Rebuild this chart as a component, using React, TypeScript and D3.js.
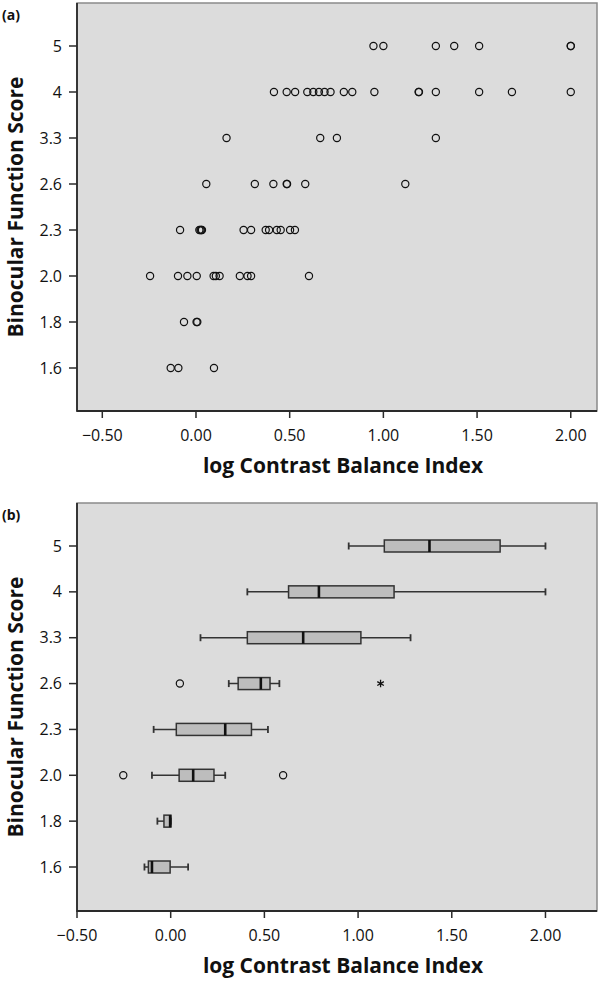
import React from 'react';
import * as d3 from 'd3';

const categories = ['5', '4', '3.3', '2.6', '2.3', '2.0', '1.8', '1.6'];
const xTicks = [-0.5, 0, 0.5, 1, 1.5, 2];

// Panel (a) scatter values, one array per score
const score5 = [0.947, 1.0, 1.28, 1.378, 1.511, 2.0, 2.0];
const score4 = [0.416, 0.484, 0.529, 0.594, 0.626, 0.656, 0.686, 0.718, 0.789, 0.834, 0.952, 1.188, 1.19, 1.28, 1.511, 1.686, 2.0];
const score33 = [0.163, 0.663, 0.752, 1.28];
const score26 = [0.055, 0.314, 0.413, 0.484, 0.486, 0.583, 1.117];
const score23 = [-0.085, 0.018, 0.024, 0.028, 0.032, 0.254, 0.294, 0.372, 0.39, 0.431, 0.452, 0.502, 0.528];
const score20 = [-0.245, -0.096, -0.046, 0.004, 0.094, 0.106, 0.126, 0.234, 0.275, 0.294, 0.603];
const score18 = [-0.064, 0.003, 0.007];
const score16 = [-0.135, -0.094, 0.096];
const scatterSeries = [score5, score4, score33, score26, score23, score20, score18, score16];

// Panel (b) box statistics, in category order
const whiskerLow = [0.95, 0.409, 0.159, 0.31, -0.091, -0.1, -0.071, -0.14];
const q1 = [1.14, 0.629, 0.409, 0.36, 0.03, 0.045, -0.036, -0.119];
const median = [1.381, 0.791, 0.707, 0.481, 0.291, 0.12, -0.003, -0.1];
const q3 = [1.758, 1.192, 1.015, 0.53, 0.431, 0.231, 0.001, -0.003];
const whiskerHigh = [2.0, 2.0, 1.28, 0.58, 0.519, 0.291, 0.001, 0.093];
const outlierCats = ['2.6', '2.0', '2.0'];
const outlierVals = [0.049, -0.253, 0.6];
const extremeCats = ['2.6'];
const extremeVals = [1.12];

const W = 600;
const H = 982;
const LEFT = 77;
const RIGHT = 597;
const BG = '#dcdcdc';
const AXIS = '#2a2a2a';
const FONT = '"Open Sans", "DejaVu Sans", sans-serif';

function Frame({ top, bottom, x, y, label }: any) {
  return (
    <g>
      <rect x={LEFT} y={top} width={RIGHT - LEFT} height={bottom - top} fill={BG} stroke="#8a8a8a" strokeWidth={1.5} />
      <line x1={LEFT} x2={LEFT} y1={top} y2={bottom + 0.75} stroke={AXIS} strokeWidth={1.8} />
      <line x1={LEFT} x2={RIGHT} y1={bottom} y2={bottom} stroke={AXIS} strokeWidth={1.8} />
      {xTicks.map((t) => (
        <g key={t}>
          <line x1={x(t)} x2={x(t)} y1={bottom} y2={bottom + 7} stroke={AXIS} strokeWidth={1.5} />
          <text x={x(t)} y={bottom + 30} textAnchor="middle" fontFamily={FONT} fontSize={16} fill="#111">
            {d3.format('.2f')(t).replace('-', '\u2212')}
          </text>
        </g>
      ))}
      {categories.map((c) => (
        <g key={c}>
          <line x1={LEFT - 8} x2={LEFT} y1={y(c)} y2={y(c)} stroke={AXIS} strokeWidth={1.5} />
          <text x={LEFT - 15} y={y(c) + 5.5} textAnchor="end" fontFamily={FONT} fontSize={16} fill="#111">
            {c}
          </text>
        </g>
      ))}
      <text x={343} y={bottom + 62} textAnchor="middle" fontFamily={FONT} fontWeight="bold" fontSize={21} fill="#111">
        log Contrast Balance Index
      </text>
      <text
        transform={`translate(23,${(top + bottom) / 2}) rotate(-90)`}
        textAnchor="middle"
        fontFamily={FONT}
        fontWeight="bold"
        fontSize={21}
        fill="#111"
      >
        Binocular Function Score
      </text>
      <text x={2} y={top + 17} fontFamily={FONT} fontWeight="bold" fontSize={14} fill="#111">
        {label}
      </text>
    </g>
  );
}

export default function App() {
  const topA = 3, bottomA = 411;
  const topB = 503, bottomB = 911;
  const xA = d3.scaleLinear().domain([-0.635, 2.14]).range([LEFT, RIGHT]);
  const xB = d3.scaleLinear().domain([-0.5, 2.275]).range([LEFT, RIGHT]);
  const yA = d3.scalePoint().domain(categories).range([46, 368]);
  const yB = d3.scalePoint().domain(categories).range([546, 867]);
  const star = d3.symbol().type(d3.symbolAsterisk).size(40)();
  const boxH = 12;
  const capH = 7;

  return (
    <svg width={W} height={H} style={{ position: 'absolute', left: 0, top: 0, display: 'block', background: '#fff' }}>
      <Frame top={topA} bottom={bottomA} x={xA} y={yA} label="(a)" />
      {scatterSeries.map((vals, i) =>
        vals.map((v, j) => (
          <circle key={`${i}-${j}`} cx={xA(v)} cy={yA(categories[i])} r={3.6} fill="none" stroke="#111" strokeWidth={1.2} />
        ))
      )}

      <Frame top={topB} bottom={bottomB} x={xB} y={yB} label="(b)" />
      {categories.map((c, i) => {
        const cy = yB(c) as number;
        return (
          <g key={c}>
            <line x1={xB(whiskerLow[i])} x2={xB(whiskerHigh[i])} y1={cy} y2={cy} stroke="#333" strokeWidth={1.5} />
            <line x1={xB(whiskerLow[i])} x2={xB(whiskerLow[i])} y1={cy - capH / 2} y2={cy + capH / 2} stroke="#333" strokeWidth={1.8} />
            <line x1={xB(whiskerHigh[i])} x2={xB(whiskerHigh[i])} y1={cy - capH / 2} y2={cy + capH / 2} stroke="#333" strokeWidth={1.8} />
            <rect
              x={xB(q1[i])}
              y={cy - boxH / 2}
              width={Math.max(xB(q3[i]) - xB(q1[i]), 1)}
              height={boxH}
              fill="#bdbdbd"
              stroke="#333"
              strokeWidth={1.5}
            />
            <line x1={xB(median[i])} x2={xB(median[i])} y1={cy - boxH / 2} y2={cy + boxH / 2} stroke="#111" strokeWidth={2.6} />
          </g>
        );
      })}
      {outlierVals.map((v, i) => (
        <circle key={`o${i}`} cx={xB(v)} cy={yB(outlierCats[i])} r={3.6} fill="none" stroke="#111" strokeWidth={1.2} />
      ))}
      {extremeVals.map((v, i) => (
        <path
          key={`e${i}`}
          d={star as string}
          transform={`translate(${xB(v)},${yB(extremeCats[i])})`}
          fill="none"
          stroke="#111"
          strokeWidth={1.3}
        />
      ))}
    </svg>
  );
}
